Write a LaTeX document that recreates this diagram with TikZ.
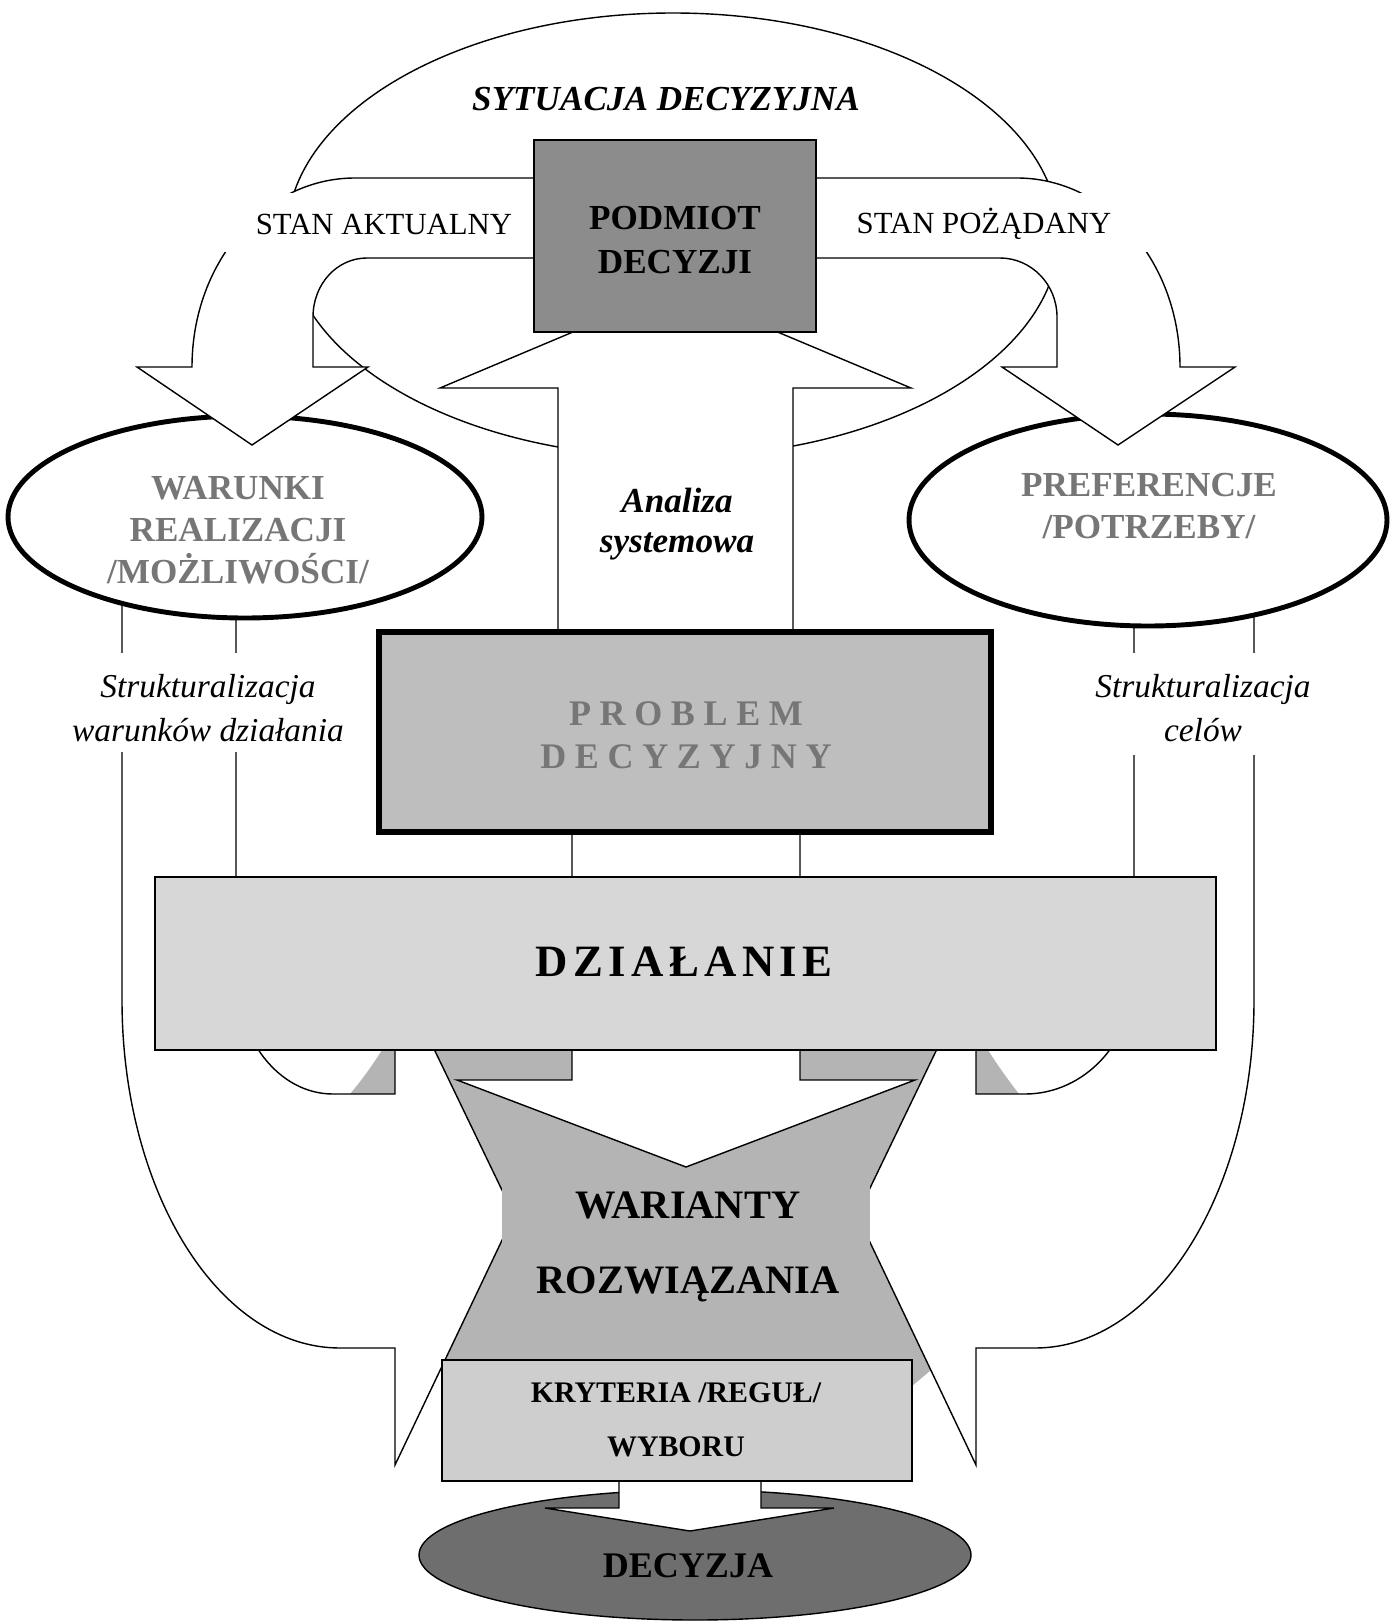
\documentclass[tikz,border=0pt]{standalone}
\usepackage{fontspec}
\setmainfont{Liberation Serif}
\newfontfamily\rozstrzelony[LetterSpace=24]{Liberation Serif}
\newfontfamily\rozstrzelonyDz[LetterSpace=12]{Liberation Serif}
\definecolor{podmiotC}{RGB}{140,140,140}
\definecolor{problemC}{RGB}{190,190,190}
\definecolor{dzialanieC}{RGB}{215,215,215}
\definecolor{wariantyC}{RGB}{180,180,180}
\definecolor{kryteriaC}{RGB}{206,206,206}
\definecolor{decyzjaC}{RGB}{110,110,110}
\definecolor{szaryT}{RGB}{118,118,118}
\newcommand{\rozm}[2]{\fontsize{#1}{#2}\selectfont}

\begin{document}
\begin{tikzpicture}[x=0.02cm, y=-0.02cm,
	linia/.style={line width=0.8pt},
	biala/.style={linia, fill=white},
	gruba/.style={line width=2.8pt, fill=white},
	napis/.style={inner sep=0pt, align=center}]
	\useasboundingbox (0,0) rectangle (1398,1622);

	%Duza elipsa - sytuacja decyzyjna
	\draw[linia] (673,235) ellipse [x radius=386, y radius=222];

	%Szary obszar pod wariantami
	\fill[wariantyC] (385,1030) -- (985,1030) -- (988,1050) .. controls (998,1066) and (1009,1081) .. (1019,1094) -- (1020,1250) -- (940,1330) -- (931,1370) .. controls (924,1376) and (918,1381) .. (912,1386) -- (445,1386) -- (445,1365) -- (420,1340) -- (345,1250) -- (350,1094) .. controls (361,1081) and (372,1066) .. (382,1050) -- cycle;

	%Lewa dolna strzalka
	\filldraw[biala] (122,580) -- (122,1000) .. controls (122,1192) and (219,1348) .. (340,1348) -- (395,1348) -- (395,1465) -- (514,1215) -- (395,968) -- (395,1094) -- (333,1094) .. controls (279,1094) and (236,1039) .. (236,971) -- (236,580) -- cycle;

	%Prawa dolna strzalka
	\filldraw[biala] (1254,580) -- (1254,1000) .. controls (1254,1192) and (1156,1348) .. (1035,1348) -- (976,1348) -- (976,1465) -- (857,1215) -- (976,968) -- (976,1094) -- (1025,1094) .. controls (1085,1094) and (1134,1041) .. (1134,975) -- (1134,580) -- cycle;

	%Strzalka od problemu w dol
	\filldraw[biala] (572,825) -- (572,1080) -- (457,1080) -- (686,1167) -- (915,1080) -- (800,1080) -- (800,825) -- cycle;

	%Tlo napisu warianty
	\fill[wariantyC] (502,1172) rectangle (870,1300);

	%Elipsy warunki i preferencje
	\draw[gruba] (245,517) ellipse [x radius=237, y radius=101];
	\draw[gruba] (1148,520) ellipse [x radius=239, y radius=106];

	%Gorne zakrzywione strzalki
	\filldraw[biala] (560,178) -- (355,178) .. controls (265,178) and (192,262) .. (192,367) -- (137,367) -- (252,445) -- (368,367) -- (313,367) -- (313,317) .. controls (313,284) and (337,258) .. (367,258) -- (560,258) -- cycle;
	\filldraw[biala] (790,178) -- (1017,178) .. controls (1107,178) and (1180,262) .. (1180,367) -- (1235,367) -- (1118,445) -- (1002,367) -- (1057,367) -- (1057,317) .. controls (1057,284) and (1031,258) .. (1000,258) -- (790,258) -- cycle;
	\fill[white] (205,193) rectangle (530,252);
	\fill[white] (840,193) rectangle (1160,252);

	%Analiza systemowa
	\filldraw[biala] (558,640) -- (558,388) -- (440,388) -- (675,289) -- (911,388) -- (793,388) -- (793,640) -- cycle;

	%Podmiot
	\filldraw[linia, fill=podmiotC] (534,140) rectangle (816,332);

	%Przerwy w liniach pod napisami
	\fill[white] (58,653) rectangle (358,752);
	\fill[white] (1085,653) rectangle (1322,755);

	%Problem
	\filldraw[line width=3.4pt, fill=problemC] (379,632) rectangle (991,832);

	%Dzialanie
	\filldraw[linia, fill=dzialanieC] (155,877) rectangle (1216,1050);

	%Decyzja
	\filldraw[linia, fill=decyzjaC] (695,1555) ellipse [x radius=276, y radius=65];
	\filldraw[biala] (619,1470) -- (619,1508) -- (545,1508) -- (690,1531) -- (834,1508) -- (761,1508) -- (761,1470) -- cycle;

	%Kryteria
	\filldraw[linia, fill=kryteriaC] (442,1360) rectangle (912,1481);

	%Napisy
	\node[napis, font=\rozm{20}{24}\bfseries\itshape] (sytuacja) at (666,99) {SYTUACJA DECYZYJNA};
	\node[napis, font=\rozm{17.5}{21}] (stanAkt) at (384,224) {STAN AKTUALNY};
	\node[napis, font=\rozm{17.5}{21}] (stanPoz) at (984,224) {STAN POŻĄDANY};
	\node[napis, font=\rozm{20}{25.5}\bfseries] (podmiot) at (675,240) {PODMIOT\\DECYZJI};
	\node[napis, font=\rozm{20}{23.2}\bfseries\itshape] (analiza) at (677,524) {Analiza\\systemowa};
	\node[napis, text=szaryT, font=\rozm{20}{23.8}\bfseries] (warunki) at (238,530) {WARUNKI\\REALIZACJI\\/MOŻLIWOŚCI/};
	\node[napis, text=szaryT, font=\rozm{20}{23.8}\bfseries] (preferencje) at (1149,506) {PREFERENCJE\\/POTRZEBY/};
	\node[napis, font=\rozm{19}{25}\itshape] (strukWar) at (208,708) {Strukturalizacja\\warunków działania};
	\node[napis, font=\rozm{19}{25}\itshape] (strukCel) at (1203,708) {Strukturalizacja\\celów};
	\node[napis, text=szaryT, font=\rozstrzelony\rozm{20.5}{24.4}\bfseries] (problem) at (686,735) {PROBLEM\\DECYZYJNY};
	\node[napis, font=\rozstrzelonyDz\rozm{25.5}{28}\bfseries] (dzialanie) at (684,962) {DZIAŁANIE};
	\node[napis, font=\rozm{23}{43}\bfseries] (warianty) at (688,1247) {WARIANTY\\ROZWIĄZANIA};
	\node[napis, font=\rozm{17}{31}\bfseries] (kryteria) at (676,1420) {KRYTERIA /REGUŁ/\\WYBORU};
	\node[napis, font=\rozm{20.5}{24}\bfseries] (decyzja) at (688,1566) {DECYZJA};
\end{tikzpicture}
\end{document}
